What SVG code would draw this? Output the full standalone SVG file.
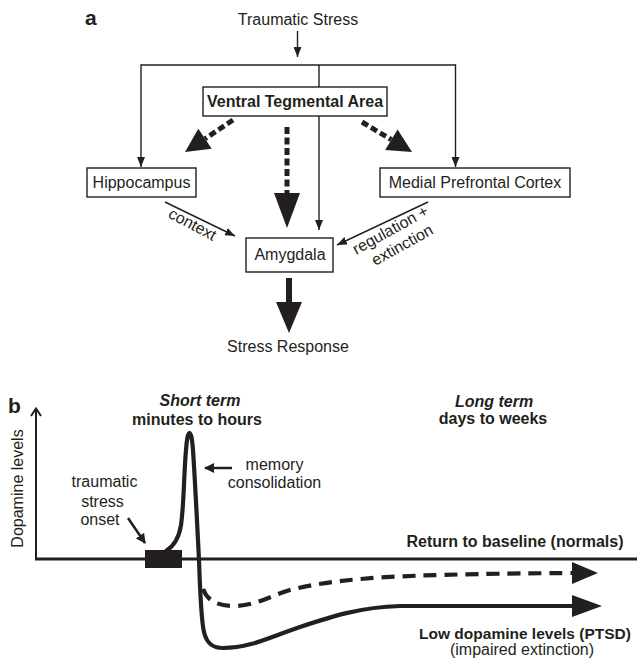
<svg xmlns="http://www.w3.org/2000/svg" width="637" height="664" viewBox="0 0 637 664">
<style>
text{font-family:"Liberation Sans",Arial,sans-serif;font-size:16px;fill:#231f20}
.b{font-weight:bold}
.bi{font-weight:bold;font-style:italic}
.lbl{font-weight:bold;font-size:21px}
.box{fill:#fff;stroke:#231f20;stroke-width:1.4}
.thin{fill:none;stroke:#231f20;stroke-width:1.4}
.dash{fill:none;stroke:#231f20;stroke-width:5;stroke-dasharray:7 3.5}
.head{fill:#231f20}
.thick{fill:none;stroke:#231f20;stroke-width:4.2;stroke-linecap:round;stroke-linejoin:round}
.med{fill:none;stroke:#231f20;stroke-width:2.5}
</style>
<defs>
<marker id="ah" markerUnits="userSpaceOnUse" viewBox="0 0 10 8" markerWidth="10" markerHeight="8" refX="10" refY="4" orient="auto"><path d="M0,0 L10,4 L0,8 z" fill="#231f20"/></marker>
<marker id="am" markerUnits="userSpaceOnUse" viewBox="0 0 10 10" markerWidth="10" markerHeight="10" refX="9" refY="5" orient="auto"><path d="M0,0 L10,5 L0,10 z" fill="#231f20"/></marker>
</defs>

<text class="lbl" x="85" y="25">a</text>
<text class="lbl" x="8" y="413">b</text>

<g id="connectors">
  <line class="thin" x1="297.5" y1="31" x2="297.5" y2="57" marker-end="url(#ah)"/>
  <line class="thin" x1="141" y1="65" x2="455.5" y2="65"/>
  <line class="thin" x1="141" y1="64.3" x2="141" y2="167" marker-end="url(#ah)"/>
  <line class="thin" x1="455.5" y1="64.3" x2="455.5" y2="167" marker-end="url(#ah)"/>
  <line class="thin" x1="319" y1="65" x2="319" y2="230" marker-end="url(#ah)"/>
  <line class="thin" x1="165" y1="202" x2="235" y2="236" marker-end="url(#ah)"/>
  <line class="thin" x1="428" y1="202" x2="337" y2="245" marker-end="url(#ah)"/>
  <line class="dash" x1="233" y1="120" x2="205" y2="138.7"/>
  <polygon class="head" points="185,152 211.7,148.7 198.3,128.7"/>
  <line class="dash" x1="362" y1="122" x2="391.4" y2="139.7"/>
  <polygon class="head" points="412,152 385.2,150 397.6,129.5"/>
  <line class="dash" x1="287" y1="127" x2="287" y2="195"/>
  <polygon class="head" points="274,193 300,193 287,228"/>
  <line x1="289" y1="278" x2="289" y2="304" stroke="#231f20" stroke-width="6"/>
  <polygon class="head" points="276,302 302,302 289,333"/>
</g>

<g id="traumatic-stress"><text x="298" y="25" text-anchor="middle">Traumatic Stress</text></g>
<g id="vta"><rect class="box" x="203" y="87" width="184" height="29"/><text class="b" x="295" y="107" text-anchor="middle">Ventral Tegmental Area</text></g>
<g id="hippocampus"><rect class="box" x="87" y="168" width="109" height="29"/><text x="141.5" y="188" text-anchor="middle">Hippocampus</text></g>
<g id="mpfc"><rect class="box" x="380" y="168" width="190" height="29"/><text x="475" y="188" text-anchor="middle">Medial Prefrontal Cortex</text></g>
<g id="amygdala"><rect class="box" x="246" y="238" width="87" height="34"/><text x="290" y="260" text-anchor="middle">Amygdala</text></g>
<g id="stress-response"><text x="288" y="352" text-anchor="middle">Stress Response</text></g>
<g id="label-context"><text transform="translate(190,229) rotate(28)" text-anchor="middle">context</text></g>
<g id="label-regulation" transform="translate(393,234.5) rotate(-29)">
  <text x="0" y="0" text-anchor="middle">regulation +</text>
  <text x="3" y="19" text-anchor="middle">extinction</text>
</g>

<g id="chart">
  <line x1="36" y1="409" x2="36" y2="560" stroke="#231f20" stroke-width="2"/>
  <polyline points="31,416 36,408.5 41,416" fill="none" stroke="#231f20" stroke-width="2"/>
  <line x1="35" y1="559" x2="637" y2="559" stroke="#231f20" stroke-width="3.2"/>
  <text transform="translate(22.5,488.5) rotate(-90)" text-anchor="middle">Dopamine levels</text>
  <rect x="145" y="550" width="37" height="18" fill="#231f20"/>
  <path class="thick" d="M166,551 C174,546 179,538 181,525 C184,505 184,470 186,450 C187,438 188,433 189.5,433 C191,433 192,438 193,450 C195,480 197,520 199,560 C200,590 201,620 204,632 C207,645 214,648 223,648 C250,648 270,637 300,627 C330,617 360,607 400,606 L574,606"/>
  <polygon class="head" points="572,595 602,606 572,617"/>
  <path class="thick" style="stroke-dasharray:13 8;stroke-linecap:butt" d="M203,589 C207,600 217,606 233,606 C255,606 270,596 290,590 C310,585 330,582 350,580 C380,577 420,574 574,573"/>
  <polygon class="head" points="572,562 598,573 572,584"/>
  <line class="med" x1="128" y1="518" x2="145" y2="543" marker-end="url(#am)"/>
  <line class="med" x1="232" y1="468" x2="205" y2="468" marker-end="url(#am)"/>
</g>

<g id="chart-text">
  <text class="bi" x="200" y="406" text-anchor="middle">Short term</text>
  <text class="b" x="197" y="425" text-anchor="middle">minutes to hours</text>
  <text class="bi" x="494" y="407" text-anchor="middle">Long term</text>
  <text class="b" x="493" y="424" text-anchor="middle">days to weeks</text>
  <text x="274.5" y="470" text-anchor="middle">memory</text>
  <text x="274.5" y="488" text-anchor="middle">consolidation</text>
  <text x="104.5" y="487" text-anchor="middle">traumatic</text>
  <text x="102.5" y="507" text-anchor="middle">stress</text>
  <text x="100" y="525" text-anchor="middle">onset</text>
  <text class="b" x="515" y="547" text-anchor="middle">Return to baseline (normals)</text>
  <text class="b" x="525" y="639" text-anchor="middle" style="font-size:15.5px">Low dopamine levels (PTSD)</text>
  <text x="522" y="655" text-anchor="middle">(impaired extinction)</text>
</g>
</svg>
